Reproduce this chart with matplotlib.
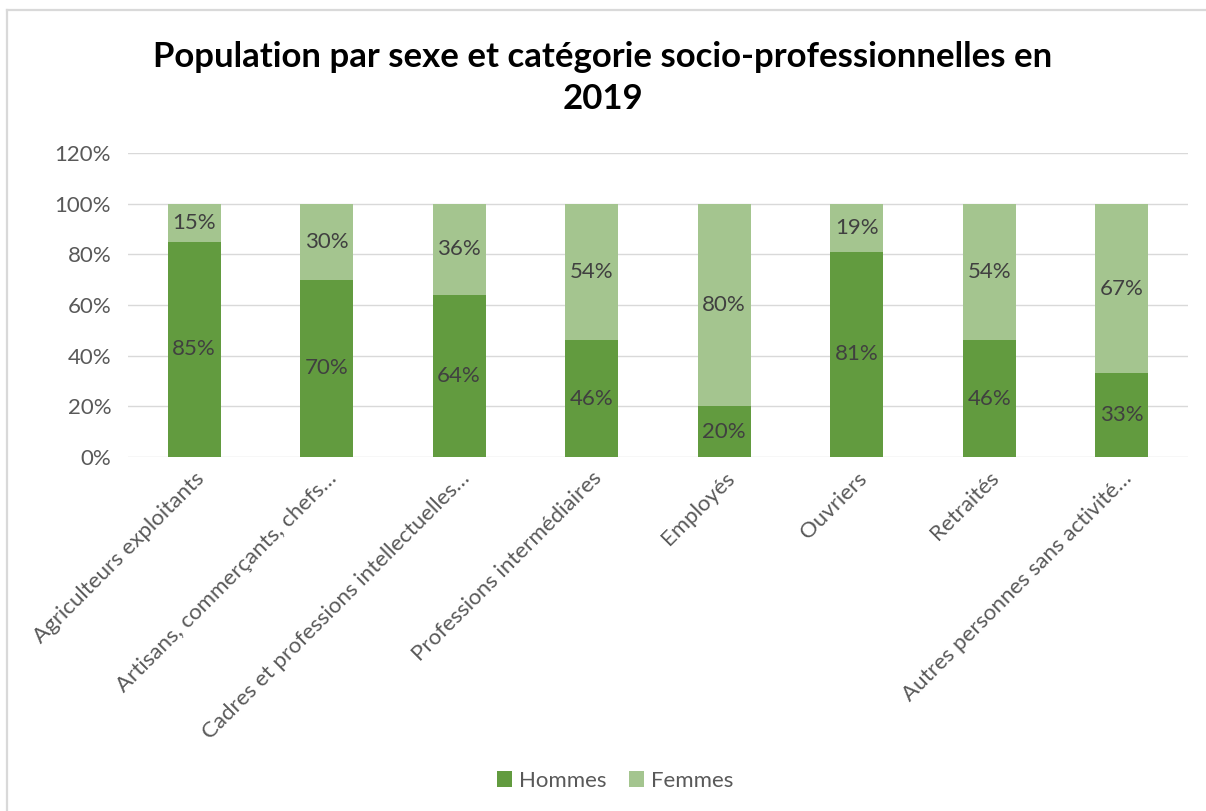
import matplotlib.pyplot as plt
from matplotlib.lines import Line2D

categories = ["Agriculteurs exploitants", "Artisans, commerçants, chefs…",
              "Cadres et professions intellectuelles…", "Professions intermédiaires",
              "Employés", "Ouvriers", "Retraités", "Autres personnes sans activité…"]
hommes = [85, 70, 64, 46, 20, 81, 46, 33]
femmes = [15, 30, 36, 54, 80, 19, 54, 67]

plt.rcParams['font.family'] = ['Lato', 'DejaVu Sans']

fig = plt.figure(figsize=(12.06, 8.11), dpi=100)
ax = fig.add_axes([0.106, 0.4365, 0.879, 0.3748])

c_h = '#629B3F'
c_f = '#A4C58F'
x = range(len(categories))
b1 = ax.bar(x, hommes, width=0.4, color=c_h, label='Hommes', zorder=3)
b2 = ax.bar(x, femmes, width=0.4, bottom=hommes, color=c_f, label='Femmes', zorder=3)

for i in x:
    ax.text(i, hommes[i] / 2, f"{hommes[i]}%", ha='center', va='center',
            fontsize=16, color='#404040', zorder=4)
    ax.text(i, hommes[i] + femmes[i] / 2, f"{femmes[i]}%", ha='center', va='center',
            fontsize=16, color='#404040', zorder=4)

ax.set_xlim(-0.5, len(categories) - 0.5)
ax.set_ylim(0, 120)
ax.set_yticks(range(0, 121, 20))
ax.set_yticklabels([f"{v}%" for v in range(0, 121, 20)])
ax.grid(axis='y', color='#D9D9D9', linewidth=1, zorder=0)
for s in ax.spines.values():
    s.set_visible(False)
ax.tick_params(axis='y', length=0, pad=12, labelsize=16, labelcolor='#595959')
ax.tick_params(axis='x', length=0, pad=8, labelsize=16, labelcolor='#595959')
ax.set_xticks(list(x))
ax.set_xticklabels(categories, rotation=45, ha='right', rotation_mode='anchor')

fig.text(0.5, 0.904, "Population par sexe et catégorie socio-professionnelles en\n2019",
         ha='center', va='center', fontsize=25, fontweight='bold', color='black',
         linespacing=1.4)

fig.legend(handles=[b1, b2], loc='center', bbox_to_anchor=(0.51, 0.037), ncol=2,
           frameon=False, fontsize=16, labelcolor='#595959', handlelength=0.7,
           handleheight=0.7, columnspacing=1.0, handletextpad=0.3)

# chart border (only top and left edges visible in the crop)
bx, by = 6.5 / 1206, 1 - 9.5 / 811
fig.lines.append(Line2D([bx, bx], [0, by], transform=fig.transFigure,
                        color='#D9D9D9', linewidth=1.6))
fig.lines.append(Line2D([bx, 1], [by, by], transform=fig.transFigure,
                        color='#D9D9D9', linewidth=1.6))

fig.savefig('out.png', dpi=100)
